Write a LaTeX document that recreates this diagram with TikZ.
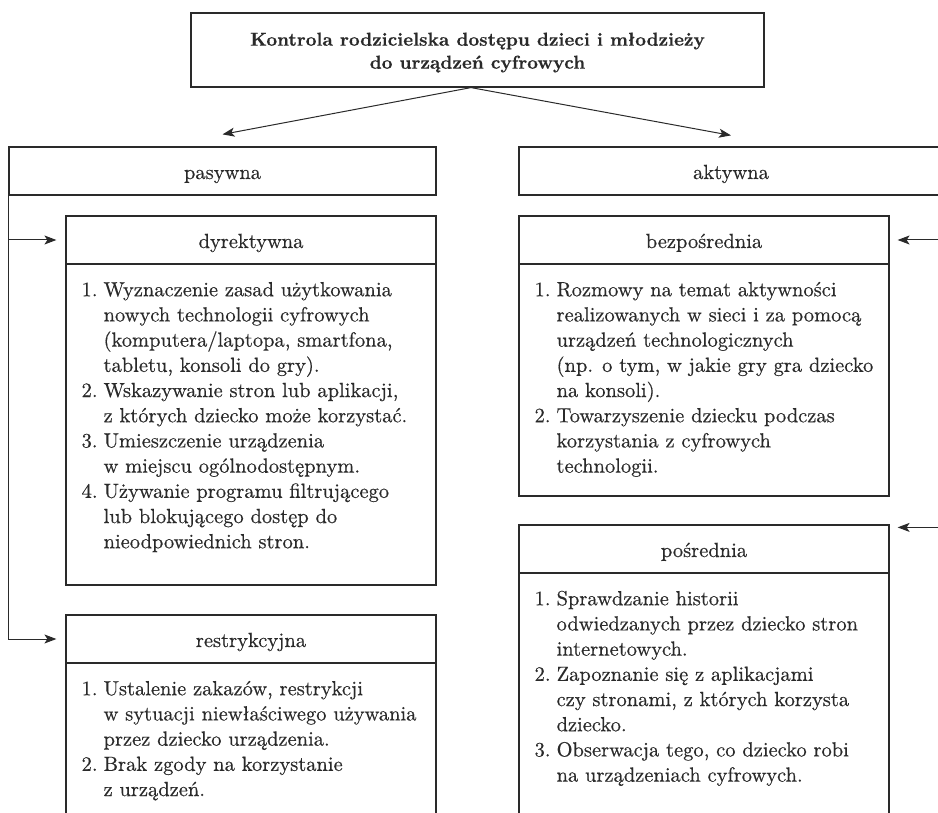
\documentclass[tikz,border=0pt]{standalone}
\usepackage{fontspec}
\setmainfont{lmroman10-regular.otf}[BoldFont=lmroman10-bold.otf, FakeBold=0.45]
\usetikzlibrary{arrows.meta}
\definecolor{ink}{HTML}{2A2A2A}
\newcommand{\ListNum}[1]{\makebox[22pt][l]{#1.}}
\newcommand{\ListInd}{\hspace*{22pt}}
\begin{document}
\begin{tikzpicture}[x=1pt,y=-1pt,
  frame/.style={draw=ink, line width=1.2pt, rectangle, inner sep=0pt, text=ink,
    font=\fontsize{20.5}{25.2}\selectfont},
  head/.style={frame, minimum width=370pt, text height=20pt, text depth=4pt},
  list/.style={inner sep=0pt, text=ink, align=left, anchor=north west,
    font=\fontsize{20.5}{25.2}\selectfont},
  arr/.style={draw=ink, line width=1pt, -{Stealth[length=12pt,width=9pt,inset=3pt]}}]
\clip (0,0) rectangle (938,813);

% title
\node[frame, minimum width=573pt, minimum height=74pt] (top) at (477.5,50) {};
\node[inner sep=0pt, anchor=north, align=center, text=ink,
  font=\bfseries\fontsize{18.7}{23}\selectfont] (title) at ([yshift=-17pt]top.north)
  {\strut Kontrola rodzicielska dostępu dzieci i młodzieży\\do urządzeń cyfrowych};

% two main branches
\node[frame, minimum width=427pt, minimum height=48pt, text height=20pt, text depth=4pt]
  (pas) at (222.5,171) {pasywna};
\node[frame, minimum width=424pt, minimum height=48pt, text height=20pt, text depth=4pt]
  (akt) at (731,171) {aktywna};

% passive control
\node[head, minimum height=48pt] (dyrH) at (251,240) {dyrektywna};
\node[frame, minimum width=370pt, minimum height=321pt] (dyrB) at (251,424.5) {};
\node[head, minimum height=48pt] (resH) at (251,639) {restrykcyjna};
\node[frame, minimum width=370pt, minimum height=180pt] (resB) at (251,753) {};

% active control
\node[head, minimum height=48pt] (bezH) at (704,240) {bezpośrednia};
\node[frame, minimum width=370pt, minimum height=232pt] (bezB) at (704,380) {};
\node[head, minimum height=48pt] (posH) at (704,549) {pośrednia};
\node[frame, minimum width=370pt, minimum height=270pt] (posB) at (704,708) {};

% lists
\node[list] (dyrL) at ([xshift=16pt,yshift=-15pt]dyrB.north west)
 {\strut\ListNum{1}Wyznaczenie zasad użytkowania\\
  \ListInd nowych technologii cyfrowych\\
  \ListInd (komputera/laptopa, smartfona,\\
  \ListInd tabletu, konsoli do gry).\\
  \ListNum{2}Wskazywanie stron lub aplikacji,\\
  \ListInd z których dziecko może korzystać.\\
  \ListNum{3}Umieszczenie urządzenia\\
  \ListInd w miejscu ogólnodostępnym.\\
  \ListNum{4}Używanie programu filtrującego\\
  \ListInd lub blokującego dostęp do\\
  \ListInd nieodpowiednich stron.};

\node[list] (resL) at ([xshift=16pt,yshift=-15pt]resB.north west)
 {\strut\ListNum{1}Ustalenie zakazów, restrykcji\\
  \ListInd w sytuacji niewłaściwego używania\\
  \ListInd przez dziecko urządzenia.\\
  \ListNum{2}Brak zgody na korzystanie\\
  \ListInd z urządzeń.};

\node[list] (bezL) at ([xshift=16pt,yshift=-15pt]bezB.north west)
 {\strut\ListNum{1}Rozmowy na temat aktywności\\
  \ListInd realizowanych w sieci i za pomocą\\
  \ListInd urządzeń technologicznych\\
  \ListInd (np. o tym, w jakie gry gra dziecko\\
  \ListInd na konsoli).\\
  \ListNum{2}Towarzyszenie dziecku podczas\\
  \ListInd korzystania z cyfrowych\\
  \ListInd technologii.};

\node[list] (posL) at ([xshift=16pt,yshift=-15pt]posB.north west)
 {\strut\ListNum{1}Sprawdzanie historii\\
  \ListInd odwiedzanych przez dziecko stron\\
  \ListInd internetowych.\\
  \ListNum{2}Zapoznanie się z aplikacjami\\
  \ListInd czy stronami, z których korzysta\\
  \ListInd dziecko.\\
  \ListNum{3}Obserwacja tego, co dziecko robi\\
  \ListInd na urządzeniach cyfrowych.};

% connectors
\draw[arr] ([xshift=-6.5pt]top.south) -- ([yshift=12pt]pas.north);
\draw[arr] ([xshift=-6.5pt]top.south) -- ([yshift=11pt]akt.north);
\draw[arr, shorten >=9pt] (pas.south west) |- (resH.west);
\draw[arr, shorten >=9pt] (pas.south west |- dyrH.west) -- (dyrH.west);
\draw[arr, shorten >=8pt] (akt.south east) |- ([yshift=-3pt]posH.north east);
\draw[arr, shorten >=8pt] (akt.south east |- bezH.east) -- (bezH.east);
\end{tikzpicture}
\end{document}
